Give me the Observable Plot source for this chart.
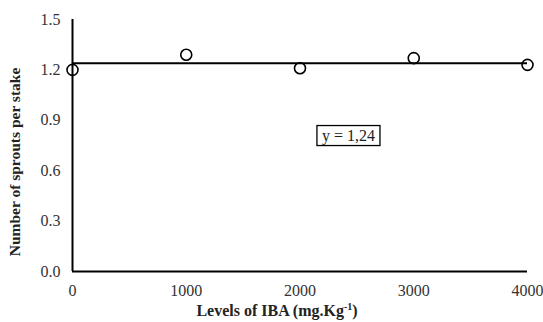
<!DOCTYPE html>
<html><head><meta charset="utf-8">
<script src="https://cdn.jsdelivr.net/npm/d3@7"></script>
<script src="https://cdn.jsdelivr.net/npm/@observablehq/plot@0.6"></script>
<style>body{margin:0;background:#fff}</style>
</head><body><div id="chart"></div>
<script>
const levels = [0, 1000, 2000, 3000, 4000];
const sprouts = [1.20, 1.29, 1.21, 1.27, 1.23];
const fitValue = 1.24;
const fitLabel = "y = 1,24";
const labelPos = {x: 2426, y: 0.81};
const yTicks = [0, 0.3, 0.6, 0.9, 1.2, 1.5];
const xTicks = [0, 1000, 2000, 3000, 4000];

const data = levels.map((l, i) => ({level: l, value: sprouts[i]}));
const serif = "'Liberation Serif', 'Times New Roman', serif";

const chart = Plot.plot({
  width: 543, height: 322,
  marginLeft: 72, marginRight: 16, marginTop: 19, marginBottom: 51,
  style: {fontFamily: serif, color: "#333", background: "#fff"},
  x: {domain: [0, 4000], label: null},
  y: {domain: [0, 1.5], label: null},
  marks: [
    Plot.axisX({ticks: xTicks, tickSize: 0, tickPadding: 13, tickFormat: d => String(d), fontSize: 16, label: null, fill: "#333"}),
    Plot.axisY({ticks: yTicks, tickSize: 0, tickPadding: 12, tickFormat: d3.format(".1f"), fontSize: 16, label: null, fill: "#333"}),
    Plot.ruleX([0], {y1: 0, y2: 1.5, stroke: "#000", strokeWidth: 2}),
    Plot.ruleY([0], {x1: 0, x2: 4000, stroke: "#000", strokeWidth: 2}),
    Plot.ruleY([fitValue], {x1: 0, x2: 4000, stroke: "#000", strokeWidth: 2}),
    Plot.dot(data, {x: "level", y: "value", r: 5.5, stroke: "#000", strokeWidth: 1.6, fill: "none"}),
    Plot.text([labelPos], {x: "x", y: "y", text: () => fitLabel, fontSize: 16, fill: "#222", className: "fitlabel"})
  ]
});

document.getElementById("chart").appendChild(chart);

// axis titles
const svg = d3.select(chart);
svg.append("text")
  .attr("transform", "translate(20,162) rotate(-90)")
  .attr("text-anchor", "middle")
  .attr("font-weight", "bold").attr("font-size", 15.5)
  .attr("font-family", serif)
  .attr("fill", "#222")
  .text("Number of sprouts per stake");

const xt = svg.append("text")
  .attr("x", 277).attr("y", 316)
  .attr("text-anchor", "middle")
  .attr("font-weight", "bold").attr("font-size", 16)
  .attr("font-family", serif)
  .attr("fill", "#222");
xt.append("tspan").text("Levels of IBA (mg.Kg");
xt.append("tspan").attr("font-size", 10).attr("dy", -6).text("-1");
xt.append("tspan").attr("dy", 6).text(")");

// box around fit label
const lbl = chart.querySelector("g.fitlabel text");
if (lbl) {
  const bb = lbl.getBBox();
  d3.select(lbl.parentNode).insert("rect", "text")
    .attr("transform", lbl.getAttribute("transform"))
    .attr("x", bb.x - 5).attr("y", bb.y - 1)
    .attr("width", bb.width + 10).attr("height", bb.height + 2)
    .attr("fill", "#fff").attr("stroke", "#000").attr("stroke-width", 1.3);
}
</script></body></html>
